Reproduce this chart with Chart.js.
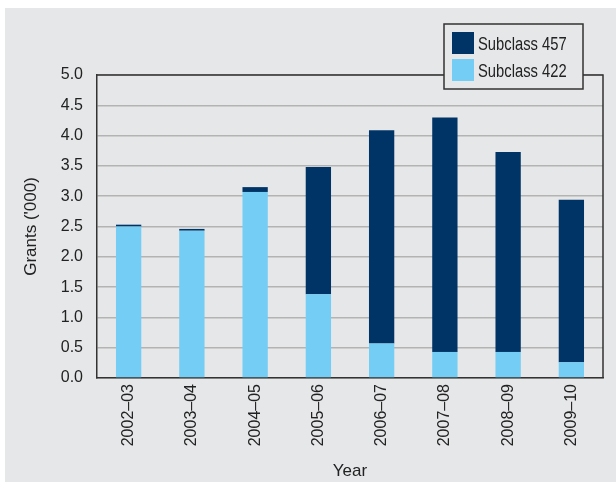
<!DOCTYPE html>
<html>
<head>
<meta charset="utf-8">
<title>Grants by year</title>
<script src="https://cdn.jsdelivr.net/npm/chart.js@4.4.1/dist/chart.umd.min.js"></script>
<style>
  html, body { margin: 0; padding: 0; background: #ffffff; }
  #wrap { position: relative; width: 616px; height: 486px; overflow: hidden; }
  #panel { position: absolute; left: 5px; top: 8px; width: 611px; height: 474px; background: #e6e7e9; }
  #chart { position: absolute; left: 0; top: 0; }
</style>
</head>
<body>
<div id="wrap">
  <div id="panel"></div>
  <canvas id="chart" width="616" height="486"></canvas>
</div>
<script>
/* ============ DATA ============ */
const years = ['2002–03', '2003–04', '2004–05', '2005–06', '2006–07', '2007–08', '2008–09', '2009–10'];
const subclass422 = [2.50, 2.43, 3.07, 1.38, 0.57, 0.43, 0.43, 0.26];
const subclass457 = [0.03, 0.03, 0.08, 2.10, 3.52, 3.87, 3.30, 2.68];
const yTicks = [0, 0.5, 1, 1.5, 2, 2.5, 3, 3.5, 4, 4.5, 5];

const colors = {
  dark: '#003466',
  light: '#73cdf4',
  panel: '#e6e7e9',
  grid: '#b3b3b3',
  axis: '#333333',
  text: '#222222',
};

const fontMain = "'Liberation Sans', Arial, sans-serif";

Chart.defaults.color = colors.text;
Chart.defaults.font.family = fontMain;

/* ============ FRAME + LEGEND ============ */
// closes the plot box on the top and right
const frame = {
  id: 'frame',
  afterDatasetsDraw(chart) {
    const { ctx, chartArea: a } = chart;
    ctx.save();
    ctx.strokeStyle = colors.axis;
    ctx.lineWidth = 1.5;
    ctx.beginPath();
    ctx.moveTo(a.left, a.top);
    ctx.lineTo(a.right, a.top);
    ctx.lineTo(a.right, a.bottom);
    ctx.stroke();
    ctx.restore();
  },
};

// boxed legend in the top right, 457 listed first, condensed type
const boxLegend = {
  id: 'boxLegend',
  afterDraw(chart) {
    const { ctx } = chart;
    const items = chart.data.datasets.slice().reverse();
    const x = 444, y = 24, w = 139, h = 65;
    ctx.save();
    ctx.fillStyle = colors.panel;
    ctx.fillRect(x, y, w, h);
    ctx.strokeStyle = colors.axis;
    ctx.lineWidth = 1.5;
    ctx.strokeRect(x, y, w, h);
    ctx.font = '18px ' + fontMain;
    ctx.textBaseline = 'alphabetic';
    items.forEach((ds, i) => {
      const top = y + 8 + i * 27;
      ctx.fillStyle = ds.backgroundColor;
      ctx.fillRect(x + 8, top, 22, 22);
      ctx.save();
      ctx.translate(x + 34, top + 17.5);
      ctx.scale(0.82, 1);
      ctx.fillStyle = colors.text;
      ctx.fillText(ds.label, 0, 0);
      ctx.restore();
    });
    ctx.restore();
  },
};

/* ============ CHART ============ */
const grantsChart = new Chart(document.getElementById('chart'), {
  type: 'bar',
  data: {
    labels: years,
    datasets: [
      {
        label: 'Subclass 422',
        data: subclass422,
        backgroundColor: colors.light,
        categoryPercentage: 1,
        barPercentage: 0.4,
      },
      {
        label: 'Subclass 457',
        data: subclass457,
        backgroundColor: colors.dark,
        categoryPercentage: 1,
        barPercentage: 0.4,
      },
    ],
  },
  options: {
    responsive: false,
    animation: false,
    layout: { padding: { top: 75, right: 13, left: 0, bottom: 0 } },
    plugins: {
      legend: { display: false },
      tooltip: { enabled: false },
    },
    scales: {
      x: {
        stacked: true,
        grid: { display: false, drawTicks: false },
        border: { color: colors.axis, width: 1.5 },
        ticks: {
          minRotation: 90,
          maxRotation: 90,
          padding: 6,
          font: { size: 16 },
          color: colors.text,
        },
        title: {
          display: true,
          text: 'Year',
          font: { size: 17 },
          color: colors.text,
          padding: { top: 0, bottom: 4 },
        },
        afterFit(scale) { scale.height = 108; },
      },
      y: {
        stacked: true,
        min: 0,
        max: 5,
        afterBuildTicks(scale) { scale.ticks = yTicks.map((v) => ({ value: v })); },
        grid: { color: colors.grid, lineWidth: 1.5, drawTicks: false },
        border: { color: colors.axis, width: 1.5 },
        ticks: {
          padding: 14,
          font: { size: 16 },
          color: colors.text,
          callback: (v) => Number(v).toFixed(1),
        },
        title: {
          display: true,
          text: "Grants ('000)",
          font: { size: 17 },
          color: colors.text,
          padding: { top: 21, bottom: 0 },
        },
        afterFit(scale) { scale.width = 97; },
      },
    },
  },
  plugins: [frame, boxLegend],
});
</script>
</body>
</html>
